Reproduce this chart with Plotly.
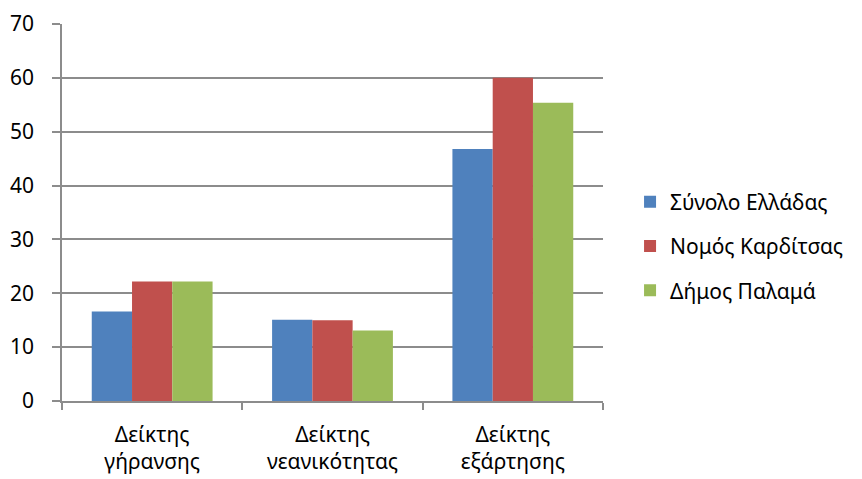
import plotly.graph_objects as go

# Demographic indices by area
categories = ["Δείκτης γήρανσης", "Δείκτης νεανικότητας", "Δείκτης εξάρτησης"]
tick_labels = ["Δείκτης<br>γήρανσης", "Δείκτης<br>νεανικότητας", "Δείκτης<br>εξάρτησης"]

greece_total = [16.6, 15.1, 46.8]
karditsa_prefecture = [22.2, 15.0, 60.0]
palamas_municipality = [22.2, 13.1, 55.4]

series_names = ["Σύνολο Ελλάδας", "Νομός Καρδίτσας", "Δήμος Παλαμά"]
series_values = [greece_total, karditsa_prefecture, palamas_municipality]
series_colors = ["#4F81BD", "#C0504D", "#9BBB59"]

y_ticks = [0, 10, 20, 30, 40, 50, 60, 70]

FONT = "Noto Sans"
FSIZE = 21
GRID = "#8C8C8C"

fig = go.Figure()
for name, vals, col in zip(series_names, series_values, series_colors):
    fig.add_trace(go.Bar(
        x=categories, y=vals, name=name, legendgroup=name,
        marker=dict(color=col, line=dict(width=0)),
    ))

fig.update_layout(
    width=862, height=479,
    margin=dict(l=62, r=259, t=24, b=78, autoexpand=False),
    paper_bgcolor="white", plot_bgcolor="white",
    barmode="group", bargap=0.33, bargroupgap=0,
    font=dict(family=FONT, size=FSIZE, color="#000000"),
    showlegend=True,
    legend=dict(
        x=1.05, y=0.411, xanchor="left", yanchor="middle",
        font=dict(family=FONT, size=FSIZE, color="#000000"),
        tracegroupgap=14,
        bgcolor="rgba(0,0,0,0)",
    ),
)

fig.update_xaxes(
    tickmode="array", tickvals=categories, ticktext=tick_labels,
    tickson="boundaries", ticks="outside", ticklen=7, tickwidth=1.5,
    tickcolor=GRID, showline=True, linecolor=GRID, linewidth=1.5,
    showgrid=False, tickfont=dict(family=FONT, size=FSIZE),
    ticklabelstandoff=14, automargin=False,
)
fig.update_yaxes(
    range=[0, 70], tickmode="array", tickvals=y_ticks,
    ticks="outside", ticklen=8, tickwidth=1.5, tickcolor=GRID,
    showline=True, linecolor=GRID, linewidth=1.5,
    showgrid=True, gridcolor=GRID, gridwidth=1.5,
    zeroline=False, tickfont=dict(family=FONT, size=FSIZE),
    ticklabelstandoff=14, automargin=False,
)

fig.write_html("out.html")
